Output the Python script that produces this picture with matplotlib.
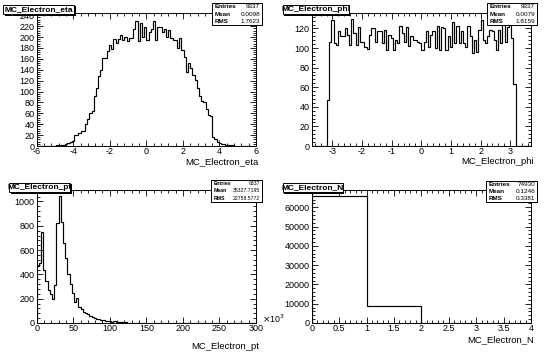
import numpy as np
import matplotlib.pyplot as plt
from matplotlib.patches import Rectangle
from matplotlib.ticker import MultipleLocator

plt.rcParams['font.family'] = ['Liberation Sans', 'DejaVu Sans']

# -------------------------------------------------------
# DATA (bin contents)
# -------------------------------------------------------

# MC_Electron_eta: 100 bins from -6 to 6
eta_edges = np.linspace(-6, 6, 101)
eta_counts = [
    0, 0, 0, 0, 0, 0, 0, 0, 0, 1,
    1, 1, 2, 3, 6, 8, 10, 20, 21, 24,
    28, 27, 41, 50, 60, 65, 91, 107, 128, 140,
    162, 162, 175, 185, 178, 197, 189, 197, 203, 195,
    200, 192, 198, 198, 215, 230, 192, 225, 200, 219,
    195, 210, 214, 230, 195, 219, 219, 210, 214, 200,
    213, 198, 195, 195, 180, 198, 176, 163, 135, 152,
    143, 130, 122, 107, 92, 83, 80, 68, 57, 55,
    16, 13, 7, 5, 3, 3, 1, 1, 1, 1,
    0, 0, 0, 0, 0, 0, 0, 0, 0, 0,
]
eta_stats = ["9337", "0.0098", "1.7623"]

# MC_Electron_phi: 100 bins from -3.7 to 3.7
phi_edges = np.linspace(-3.7, 3.7, 101)
phi_counts = [
    0, 0, 0, 0, 0, 0, 0, 47,
    106, 129, 105, 103, 117, 112, 112, 120, 113, 103,
    130, 115, 103, 122, 106, 106, 101, 99, 113, 120,
    121, 106, 117, 117, 105, 118, 98, 113, 110, 98,
    108, 105, 123, 115, 106, 122, 102, 112, 108, 108,
    106, 105, 98, 106, 117, 101, 113, 117, 100, 123,
    98, 122, 121, 98, 112, 101, 127, 105, 123, 105,
    117, 105, 101, 123, 112, 95, 108, 96, 118, 129,
    108, 105, 112, 118, 117, 108, 98, 118, 105, 129,
    106, 122, 127, 110,
    63, 0, 0, 0, 0, 0, 0, 0,
]
phi_stats = ["9337", "0.0079", "1.8159"]

# MC_Electron_pt: 100 bins from 0 to 300 (x10^3)
pt_edges = np.linspace(0, 300, 101)
pt_counts = [
    470, 490, 750, 440, 345, 270, 235, 195, 315, 820,
    1045, 835, 655, 535, 400, 320, 250, 170, 205, 130,
    115, 90, 80, 70, 60, 50, 42, 36, 30, 26,
    22, 18, 16, 14, 12, 18, 10, 8, 6, 6,
    5, 4, 3, 2, 2, 1, 2, 1, 1, 1,
    1, 0, 1, 0, 0, 1, 0, 0, 0, 0,
    0, 0, 0, 0, 0, 0, 0, 0, 0, 0,
    0, 0, 0, 0, 0, 0, 0, 0, 0, 0,
    0, 0, 0, 0, 0, 0, 0, 0, 0, 0,
    0, 0, 0, 0, 0, 0, 0, 0, 0, 0,
]
pt_stats = ["9337", "35327.7195", "22758.5772"]

# MC_Electron_N: 4 bins from 0 to 4
n_edges = [0, 1, 2, 3, 4]
n_counts = [65790, 8944, 196, 0]
n_stats = ["74930", "0.1246", "0.3381"]

stat_names = ["Entries", "Mean", "RMS"]

# -------------------------------------------------------
# LAYOUT (pixel positions in the 550x355 canvas)
# -------------------------------------------------------

W, H = 550, 355

panels = [
    dict(name="MC_Electron_eta", edges=eta_edges, counts=eta_counts,
         stats=eta_stats, frame=(36.7, 13.3, 256, 146), ymax=243.6,
         xmaj=2, xmin=0.4, ymaj=20, ymin=4, sfont=4.6,
         tbox=(3.3, 4.7, 74, 14), sbox=(212, 3.3, 262, 25), ty=161.5),
    dict(name="MC_Electron_phi", edges=phi_edges, counts=phi_counts,
         stats=phi_stats, frame=(311.7, 13.3, 531, 146), ymax=135.5,
         xmaj=1, xmin=0.2, ymaj=20, ymin=4, sfont=4.6,
         tbox=(283, 4.7, 349, 14), sbox=(487, 3.3, 537, 25), ty=161.5),
    dict(name="MC_Electron_pt", edges=pt_edges, counts=pt_counts,
         stats=pt_stats, frame=(36.7, 189.7, 256, 323), ymax=1097,
         xmaj=50, xmin=10, ymaj=200, ymin=40, sfont=3.7,
         tbox=(9, 182.7, 70, 192), sbox=(211, 179.7, 262, 202), ty=346.3),
    dict(name="MC_Electron_N", edges=n_edges, counts=n_counts,
         stats=n_stats, frame=(311.7, 189.7, 531, 323), ymax=69080,
         xmaj=0.5, xmin=0.1, ymaj=10000, ymin=2000, sfont=4.6,
         tbox=(283, 182.7, 343, 192), sbox=(486, 180.7, 537, 202), ty=339.5),
]


def fig_rect(fig, x0, y0, x1, y1, shadow=1.5):
    # ROOT style box with a drop shadow
    fig.add_artist(Rectangle(((x0 + shadow) / W, 1 - (y1 + shadow) / H),
                             (x1 - x0) / W, (y1 - y0) / H,
                             transform=fig.transFigure, fc='black', ec='none'))
    fig.add_artist(Rectangle((x0 / W, 1 - y1 / H), (x1 - x0) / W, (y1 - y0) / H,
                             transform=fig.transFigure, fc='white', ec='black',
                             lw=0.7))


fig = plt.figure(figsize=(5.5, 3.55), dpi=100)

for p in panels:
    x0, y0, x1, y1 = p["frame"]
    ax = fig.add_axes([x0 / W, 1 - y1 / H, (x1 - x0) / W, (y1 - y0) / H])
    ax.stairs(p["counts"], p["edges"], color='black', lw=0.85, baseline=0)
    ax.set_xlim(p["edges"][0], p["edges"][-1])
    ax.set_ylim(0, p["ymax"])

    ax.xaxis.set_major_locator(MultipleLocator(p["xmaj"]))
    ax.xaxis.set_minor_locator(MultipleLocator(p["xmin"]))
    ax.yaxis.set_major_locator(MultipleLocator(p["ymaj"]))
    ax.yaxis.set_minor_locator(MultipleLocator(p["ymin"]))
    ax.tick_params(which='both', direction='in', top=True, right=True,
                   labelsize=6.5, width=0.6)
    ax.tick_params(axis='x', pad=0.8)
    ax.tick_params(axis='y', pad=1.5)
    ax.tick_params(which='major', length=4)
    ax.tick_params(which='minor', length=2)
    for s in ax.spines.values():
        s.set_linewidth(0.7)
    ax.xaxis.set_major_formatter(plt.FuncFormatter(lambda v, pos: f"{v:g}"))
    ax.yaxis.set_major_formatter(plt.FuncFormatter(lambda v, pos: f"{v:g}"))

    # axis title, right aligned
    fig.text((x1 + 3) / W, 1 - p["ty"] / H, p["name"], ha='right',
             va='center', fontsize=6.8)

    # title box
    tx0, ty0, tx1, ty1 = p["tbox"]
    fig_rect(fig, tx0, ty0, tx1, ty1)
    fig.text((tx0 + tx1) / 2 / W, 1 - (ty0 + ty1) / 2 / H, p["name"],
             ha='center', va='center', fontsize=6, fontweight='bold')

    # stats box
    sx0, sy0, sx1, sy1 = p["sbox"]
    fig_rect(fig, sx0, sy0, sx1, sy1, shadow=1.2)
    rh = (sy1 - sy0) / 3
    for k in range(3):
        yy = 1 - (sy0 + rh * (k + 0.5)) / H
        fig.text((sx0 + 3) / W, yy, stat_names[k], ha='left', va='center',
                 fontsize=p["sfont"], fontweight='bold')
        fig.text((sx1 - 2) / W, yy, p["stats"][k], ha='right', va='center',
                 fontsize=p["sfont"])

# exponent of the pt axis
fig.text(262 / W, 1 - 318.5 / H, r"$\times$10$^{3}$", ha='left', va='center',
         fontsize=6.3)

fig.savefig("out.png", dpi=100, facecolor='white')
